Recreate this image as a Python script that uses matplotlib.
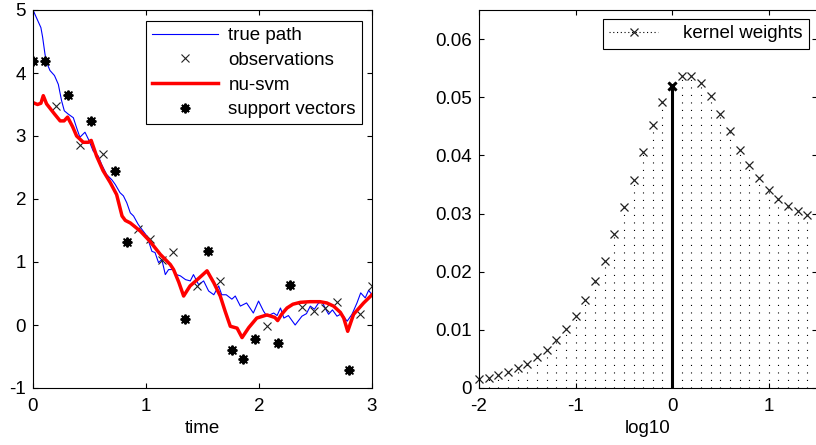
import numpy as np
import matplotlib
matplotlib.use("Agg")
import matplotlib.pyplot as plt
from matplotlib.lines import Line2D
from matplotlib.legend_handler import HandlerLine2D

plt.rcParams['font.family'] = ['Liberation Sans', 'DejaVu Sans']
plt.rcParams['font.size'] = 13.5
plt.rcParams['axes.unicode_minus'] = False
plt.rcParams['lines.scale_dashes'] = False

# ---------------- left panel data ----------------
true_t = [0.00, 0.03, 0.07, 0.085, 0.106, 0.12, 0.15, 0.19, 0.224, 0.253, 0.277, 0.31,
          0.357, 0.386, 0.415, 0.46, 0.49, 0.533, 0.578, 0.607, 0.651, 0.70, 0.728, 0.77,
          0.80, 0.83, 0.861, 0.89, 0.93, 0.95, 1.009, 1.052, 1.08, 1.111, 1.14, 1.171,
          1.20, 1.245, 1.27, 1.304, 1.35, 1.392, 1.42, 1.466, 1.51, 1.554, 1.60, 1.643,
          1.67, 1.71, 1.76, 1.79, 1.835, 1.89, 1.95, 1.996, 2.04,
          2.07, 2.13, 2.16, 2.19, 2.22, 2.26, 2.32, 2.38, 2.42, 2.454, 2.49, 2.527,
          2.56, 2.60, 2.616, 2.65, 2.69, 2.73, 2.78, 2.823, 2.867, 2.90, 2.94, 2.97, 3.00]
true_v = [5.00, 4.88, 4.72, 4.57, 4.30, 4.17, 4.04, 3.96, 3.82, 3.56, 3.40, 3.35,
          3.29, 3.13, 2.98, 3.06, 2.95, 2.76, 2.68, 2.55, 2.39, 2.30, 2.23, 2.10,
          2.05, 1.94, 1.78, 1.73, 1.60, 1.55, 1.41, 1.17, 1.15, 0.99, 1.04, 0.80,
          0.88, 0.88, 0.80, 0.78, 0.72, 0.70, 0.80, 0.64, 0.70, 0.54, 0.48, 0.62,
          0.48, 0.48, 0.41, 0.46, 0.30, 0.35, 0.19, 0.38, 0.22,
          0.14, 0.19, 0.15, 0.27, 0.11, 0.15, 0.00, 0.14, 0.18, 0.30, 0.25, 0.35,
          0.36, 0.22, 0.17, 0.24, 0.14, 0.18, 0.06, 0.17, 0.35, 0.51, 0.43, 0.55, 0.48]

obs_t = [0.000, 0.103, 0.207, 0.310, 0.414, 0.517, 0.621, 0.724, 0.828, 0.931,
         1.034, 1.138, 1.241, 1.345, 1.448, 1.552, 1.655, 1.759, 1.862, 1.966,
         2.069, 2.172, 2.276, 2.379, 2.483, 2.586, 2.690, 2.793, 2.897, 3.000]
obs_v = [4.19, 4.19, 3.48, 3.65, 2.85, 3.24, 2.71, 2.44, 1.32, 1.52,
         1.37, 1.03, 1.16, 0.10, 0.62, 1.18, 0.70, -0.40, -0.54, -0.23,
         -0.02, -0.29, 0.63, 0.29, 0.22, 0.27, 0.36, -0.71, 0.17, 0.62]

sv_t = [0.000, 0.103, 0.310, 0.517, 0.724, 0.828, 1.345, 1.552, 1.759, 1.862,
        1.966, 2.172, 2.276, 2.793]
sv_v = [4.19, 4.19, 3.65, 3.24, 2.44, 1.32, 0.10, 1.18, -0.40, -0.54,
        -0.23, -0.29, 0.63, -0.71]

svm_t = [0.00, 0.04, 0.07, 0.091, 0.12, 0.19, 0.24, 0.275, 0.306, 0.35, 0.386, 0.445,
         0.49, 0.515, 0.563, 0.62, 0.684, 0.74, 0.788, 0.817, 0.861, 0.95, 1.034,
         1.127, 1.215, 1.244, 1.29, 1.333, 1.39, 1.46, 1.54, 1.60, 1.657, 1.70, 1.746,
         1.806, 1.85, 1.91, 1.98, 2.07, 2.14, 2.165, 2.20, 2.248, 2.30, 2.366, 2.45,
         2.54, 2.60, 2.66, 2.72, 2.75, 2.785, 2.837, 2.926, 3.00]
svm_v = [3.53, 3.50, 3.52, 3.64, 3.51, 3.35, 3.24, 3.24, 3.30, 3.15, 3.00, 2.90,
         2.90, 2.93, 2.68, 2.45, 2.26, 2.07, 1.73, 1.66, 1.62, 1.49, 1.33,
         1.12, 0.96, 0.88, 0.68, 0.46, 0.62, 0.73, 0.86, 0.67, 0.46, 0.22, -0.02,
         -0.05, -0.20, -0.04, 0.11, 0.16, 0.12, 0.07, 0.17, 0.27, 0.33, 0.36, 0.37,
         0.37, 0.35, 0.30, 0.20, 0.11, -0.10, 0.17, 0.35, 0.48]

left_xticks = [0, 1, 2, 3]
left_yticks = [-1, 0, 1, 2, 3, 4, 5]

# ---------------- right panel data ----------------
log_grid = [-2.0, -1.9, -1.8, -1.7, -1.6, -1.5, -1.4, -1.3, -1.2, -1.1,
            -1.0, -0.9, -0.8, -0.7, -0.6, -0.5, -0.4, -0.3, -0.2, -0.1,
            0.0, 0.1, 0.2, 0.3, 0.4, 0.5, 0.6, 0.7, 0.8, 0.9,
            1.0, 1.1, 1.2, 1.3, 1.4]
kernel_w = [0.0015, 0.0018, 0.0023, 0.0027, 0.0035, 0.0042, 0.0053, 0.0066, 0.0082, 0.0102,
            0.0124, 0.0151, 0.0184, 0.0219, 0.0264, 0.0311, 0.0357, 0.0405, 0.0452, 0.0491,
            0.0519, 0.0536, 0.0536, 0.0524, 0.0502, 0.0472, 0.0442, 0.0410, 0.0384, 0.0361,
            0.0341, 0.0325, 0.0313, 0.0305, 0.0298]
selected_x = [0.0]
selected_w = [0.0519]
right_xticks = [-2, -1, 0, 1]
right_yticks = [0, 0.01, 0.02, 0.03, 0.04, 0.05, 0.06]
right_yticklabels = ['0', '0.01', '0.02', '0.03', '0.04', '0.05', '0.06']

W, H = 816, 445
fig = plt.figure(figsize=(W / 100, H / 100), dpi=100)

ax1 = fig.add_axes([33 / W, 1 - 388 / H, 339 / W, 378 / H])
ax2 = fig.add_axes([479 / W, 1 - 388 / H, 338 / W, 378 / H])

for ax in (ax1, ax2):
    for s in ax.spines.values():
        s.set_linewidth(0.8)
        s.set_color('black')
    ax.tick_params(direction='in', top=True, right=True, length=3.8, width=0.8,
                   colors='black', labelsize=13.5)
    ax.tick_params(axis='x', pad=7)
    ax.tick_params(axis='y', pad=5)

# ---- left ----
ax1.plot(true_t, true_v, color=(0, 0, 1), lw=0.8, label='true path')
ax1.plot(obs_t, obs_v, linestyle='none', marker='x', color='#222222', ms=6, mew=0.8,
         label='observations')
ax1.plot(svm_t, svm_v, color=(1, 0, 0), lw=2.5, label='nu-svm')
ax1.plot(sv_t, sv_v, linestyle='none', marker=(8, 2, 0), color='black', ms=7, mew=1.4,
         label='support vectors')
ax1.set_xlim(0, 3)
ax1.set_ylim(-1, 5)
ax1.set_xticks(left_xticks)
ax1.set_yticks(left_yticks)
ax1.set_xticklabels([str(v) for v in left_xticks])
ax1.set_yticklabels([str(v) for v in left_yticks])
ax1.set_xlabel('time', labelpad=4)
leg1 = ax1.legend(loc='upper right', bbox_to_anchor=(362 / W, 1 - 21 / H),
                  bbox_transform=fig.transFigure, borderaxespad=0, fancybox=False,
                  framealpha=1, edgecolor='black', borderpad=0.33, labelspacing=0.4,
                  handlelength=3.5, handletextpad=0.55, numpoints=1, fontsize=13.5)
leg1.get_frame().set_linewidth(0.8)

# ---- right ----
st = ax2.stem(log_grid, kernel_w, linefmt='k:', markerfmt='kx', basefmt=' ')
st.stemlines.set_linestyle((0, (0.8, 4.6)))
st.stemlines.set_linewidth(0.8)
st.stemlines.set_color('black')
st.markerline.set_markersize(6)
st.markerline.set_markeredgewidth(0.9)
st.markerline.set_color('#222222')
st.markerline.set_clip_on(False)

sel = ax2.stem(selected_x, selected_w, linefmt='k-', markerfmt='kx', basefmt=' ')
sel.stemlines.set_linewidth(2.2)
sel.markerline.set_markersize(6)
sel.markerline.set_markeredgewidth(2.2)

ax2.set_xlim(-2, 1.5)
ax2.set_ylim(0, 0.065)
ax2.set_xticks(right_xticks)
ax2.set_xticklabels([str(v) for v in right_xticks])
ax2.set_yticks(right_yticks)
ax2.set_yticklabels(right_yticklabels)
ax2.set_xlabel('log10', labelpad=4)


class EndMarkerHandler(HandlerLine2D):
    def get_xdata(self, legend, xdescent, ydescent, width, height, fontsize):
        return [-xdescent, -xdescent + width], [-xdescent + width]


proxy = Line2D([], [], color='black', linestyle=(0, (0.8, 1.9)), lw=0.8,
               marker='x', ms=6, mew=0.9, markeredgecolor='#222222')
leg2 = ax2.legend([proxy], ['kernel weights'], loc='upper right',
                  bbox_to_anchor=(809 / W, 1 - 19 / H), bbox_transform=fig.transFigure,
                  borderaxespad=0, fancybox=False, framealpha=1, edgecolor='black',
                  borderpad=0.33, handlelength=2.6, handletextpad=1.35, fontsize=13.5,
                  handler_map={Line2D: EndMarkerHandler()})
leg2.get_frame().set_linewidth(0.8)

fig.savefig('out.png', dpi=100)
